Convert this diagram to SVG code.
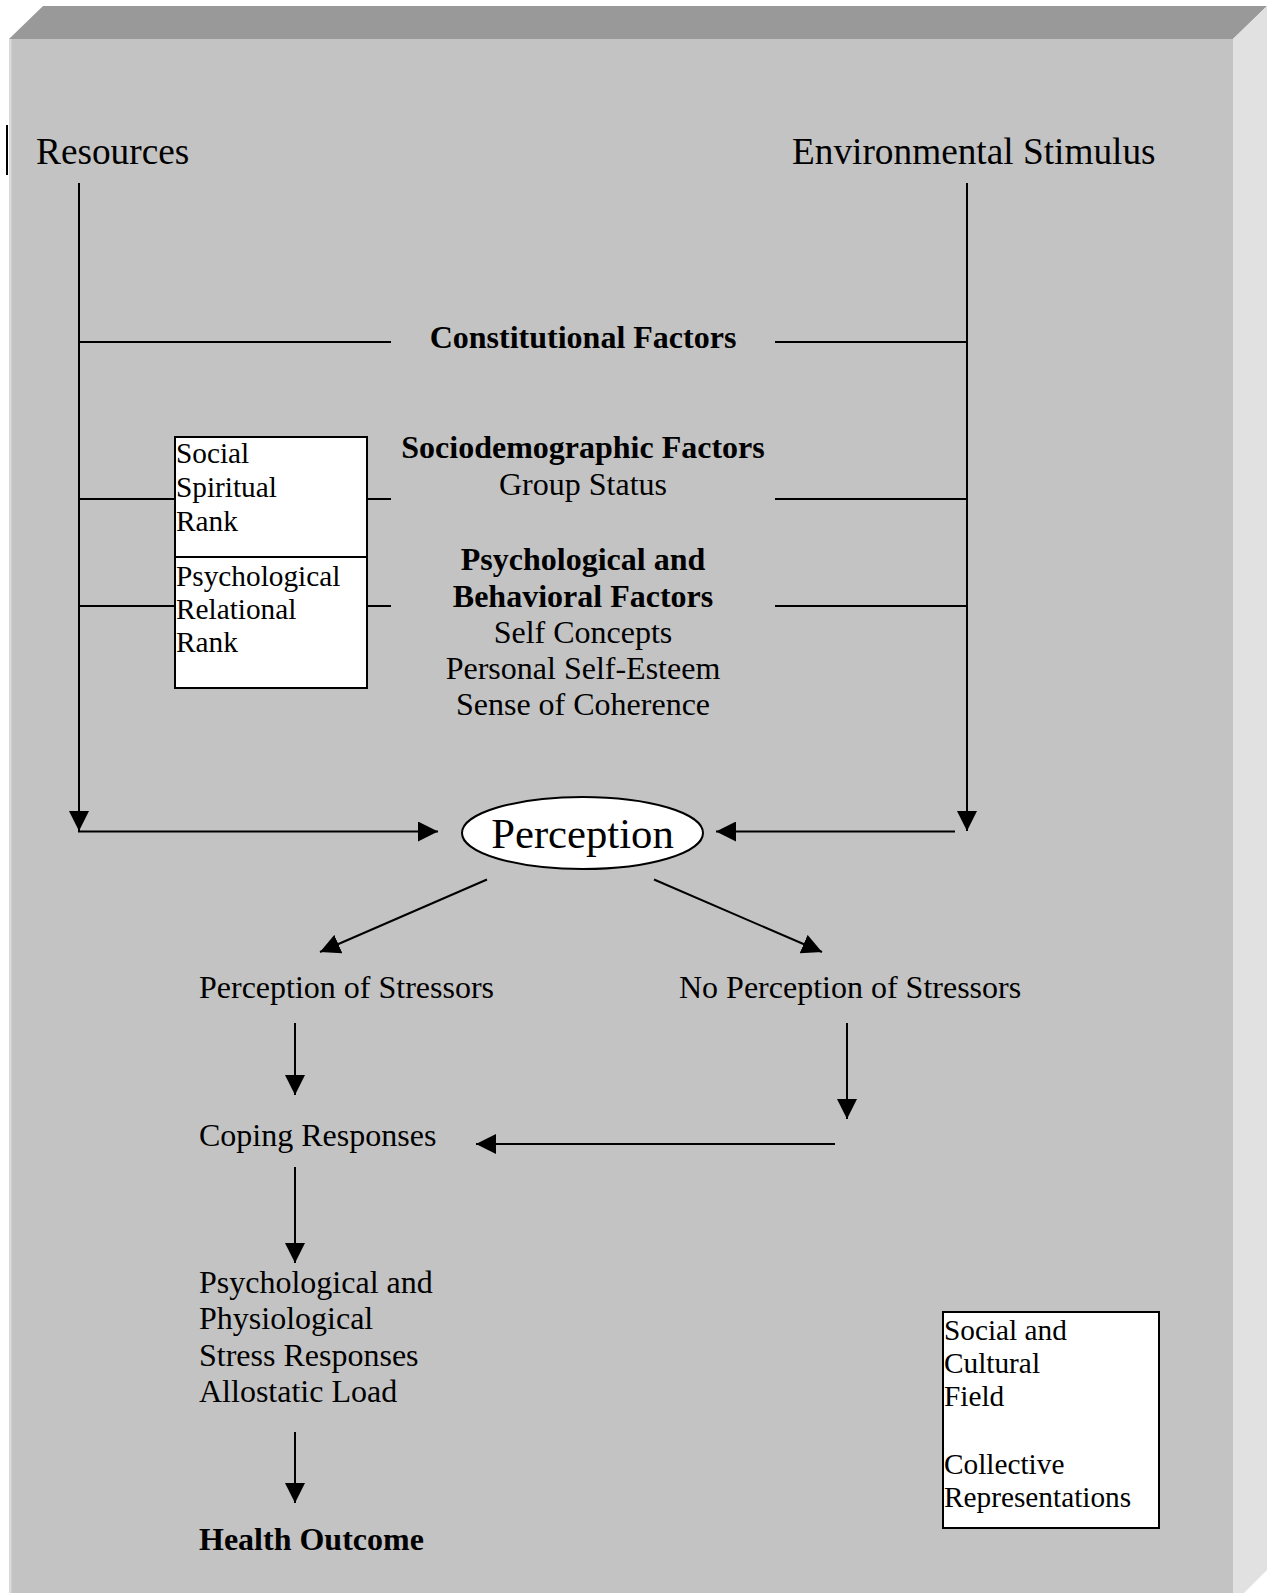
<svg xmlns="http://www.w3.org/2000/svg" width="1277" height="1593" viewBox="0 0 1277 1593">
<style>
text{font-family:"Liberation Serif","Times New Roman",serif;fill:#000}
.big{font-size:37.3px}
.mid{font-size:32px}
.sm{font-size:29.3px}
.b{font-weight:bold}
.c{text-anchor:middle}
.ln{stroke:#000;stroke-width:2;fill:none}
.arr{stroke:#000;stroke-width:2;fill:none;marker-end:url(#ah)}
.box{fill:#fff;stroke:#000;stroke-width:2}
</style>
<defs>
<marker id="ah" markerUnits="userSpaceOnUse" markerWidth="20" markerHeight="20" refX="20" refY="10" orient="auto" viewBox="0 0 20 20">
<path d="M0,0 L20,10 L0,20 z" fill="#000"/>
</marker>
</defs>
<rect width="1277" height="1593" fill="#fff"/>
<g id="panel">
<polygon points="9,39 43,6 1267,6 1233,39" fill="#999999"/>
<polygon points="1233,39 1267,6 1267,1570 1233,1604" fill="#e1e1e1"/>
<rect x="9" y="39" width="1224" height="1560" fill="#c3c3c3"/>
<rect x="9" y="39" width="2.5" height="1560" fill="#dadada"/>
<line x1="7" y1="125" x2="7" y2="175" stroke="#000" stroke-width="2"/>
</g>
<g id="connectors">
<line class="arr" x1="79" y1="183" x2="79" y2="831"/>
<line class="arr" x1="967" y1="183" x2="967" y2="831"/>
<line class="arr" x1="78" y1="831.5" x2="438" y2="831.5"/>
<line class="arr" x1="955" y1="831.5" x2="716" y2="831.5"/>
<line class="ln" x1="79" y1="342" x2="391" y2="342"/>
<line class="ln" x1="775" y1="342" x2="967" y2="342"/>
<line class="ln" x1="79" y1="499" x2="175" y2="499"/>
<line class="ln" x1="367" y1="499" x2="391" y2="499"/>
<line class="ln" x1="775" y1="499" x2="967" y2="499"/>
<line class="ln" x1="79" y1="606" x2="175" y2="606"/>
<line class="ln" x1="367" y1="606" x2="391" y2="606"/>
<line class="ln" x1="775" y1="606" x2="967" y2="606"/>
<line class="arr" x1="487" y1="879.5" x2="320" y2="952"/>
<line class="arr" x1="654" y1="879.5" x2="822" y2="952"/>
<line class="arr" x1="295" y1="1023" x2="295" y2="1095"/>
<line class="arr" x1="847" y1="1023" x2="847" y2="1119"/>
<line class="arr" x1="835" y1="1144" x2="476" y2="1144"/>
<line class="arr" x1="295" y1="1167" x2="295" y2="1263"/>
<line class="arr" x1="295" y1="1432" x2="295" y2="1503"/>
</g>
<g id="resources"><text class="big" x="36" y="164">Resources</text></g>
<g id="environmental-stimulus"><text class="big" x="792" y="164">Environmental Stimulus</text></g>
<g id="constitutional"><text class="mid b c" x="583" y="348">Constitutional Factors</text></g>
<g id="sociodemographic">
<text class="mid b c" x="583" y="458">Sociodemographic Factors</text>
<text class="mid c" x="583" y="495">Group Status</text>
</g>
<g id="psychological-behavioral">
<text class="mid b c" x="583" y="570">Psychological and</text>
<text class="mid b c" x="583" y="607">Behavioral Factors</text>
<text class="mid c" x="583" y="643">Self Concepts</text>
<text class="mid c" x="583" y="679">Personal Self-Esteem</text>
<text class="mid c" x="583" y="715">Sense of Coherence</text>
</g>
<g id="social-spiritual-rank">
<rect class="box" x="175" y="437" width="192" height="120"/>
<text class="sm" x="176" y="463">Social</text>
<text class="sm" x="176" y="497">Spiritual</text>
<text class="sm" x="176" y="531">Rank</text>
</g>
<g id="psychological-relational-rank">
<rect class="box" x="175" y="557" width="192" height="131"/>
<text class="sm" x="176" y="586">Psychological</text>
<text class="sm" x="176" y="619">Relational</text>
<text class="sm" x="176" y="652">Rank</text>
</g>
<g id="perception">
<ellipse cx="582.5" cy="833" rx="120.5" ry="36" fill="#fff" stroke="#000" stroke-width="2"/>
<text class="c" x="582.5" y="848" style="font-size:42.7px">Perception</text>
</g>
<g id="perception-of-stressors"><text class="mid" x="199" y="998">Perception of Stressors</text></g>
<g id="no-perception-of-stressors"><text class="mid" x="679" y="998">No Perception of Stressors</text></g>
<g id="coping-responses"><text class="mid" x="199" y="1146">Coping Responses</text></g>
<g id="stress-responses">
<text class="mid" x="199" y="1293">Psychological and</text>
<text class="mid" x="199" y="1329">Physiological</text>
<text class="mid" x="199" y="1366">Stress Responses</text>
<text class="mid" x="199" y="1402">Allostatic Load</text>
</g>
<g id="health-outcome"><text class="mid b" x="199" y="1550">Health Outcome</text></g>
<g id="social-cultural-field">
<rect class="box" x="943" y="1312" width="216" height="216"/>
<text class="sm" x="944" y="1340">Social and</text>
<text class="sm" x="944" y="1373">Cultural</text>
<text class="sm" x="944" y="1406">Field</text>
<text class="sm" x="944" y="1474">Collective</text>
<text class="sm" x="944" y="1507">Representations</text>
</g>
</svg>
